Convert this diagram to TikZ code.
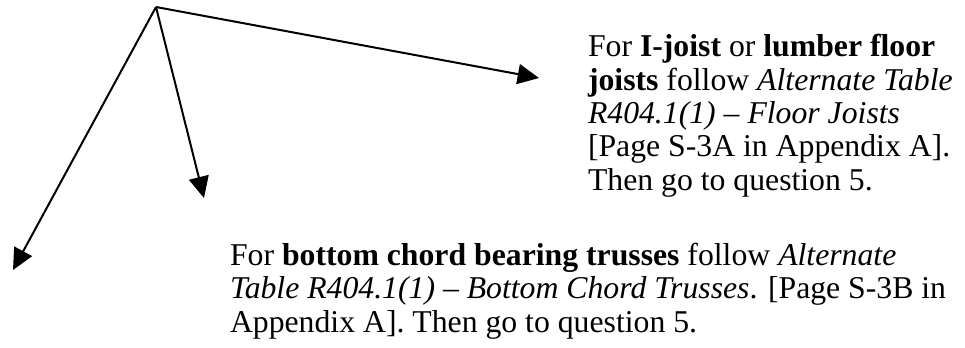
\documentclass[tikz,border=0pt]{standalone}
\usepackage{fontspec}
\setmainfont{Liberation Serif}
\usepackage{tikz}
\usetikzlibrary{arrows.meta}

\tikzset{
  note/.style={anchor=base west, align=left, inner sep=0pt,
    font=\fontsize{23.8}{25}\selectfont},
}

\begin{document}
\begin{tikzpicture}[x=0.75pt,y=-0.75pt,line width=1.5pt,
  >={Triangle[length=16pt,width=15pt]}]

\useasboundingbox (0,0) rectangle (965,347);

\coordinate (0) at (156,7);
\coordinate (1) at (539,78);
\coordinate (2) at (204,198);
\coordinate (3) at (13,270);

\foreach \i in {1,2,3}
    \draw [->] (0) -- (\i);

% base anchor sits on the last line
\node [note] (joist) at (587,190) {For \textbf{I-joist} or \textbf{lumber floor}\\
  \textbf{joists} follow \textit{Alternate Table}\\
  \textit{R404.1(1) -- Floor Joists}\\
  {[Page S-3A in Appendix A].}\\
  Then go to question 5.};

\node [note] (truss) at (229,332) {For \textbf{bottom chord bearing trusses} follow \textit{Alternate}\\
  \textit{Table R404.1(1) -- Bottom Chord Trusses}. [Page S-3B in\\
  Appendix A]. Then go to question 5.};

\end{tikzpicture}
\end{document}
